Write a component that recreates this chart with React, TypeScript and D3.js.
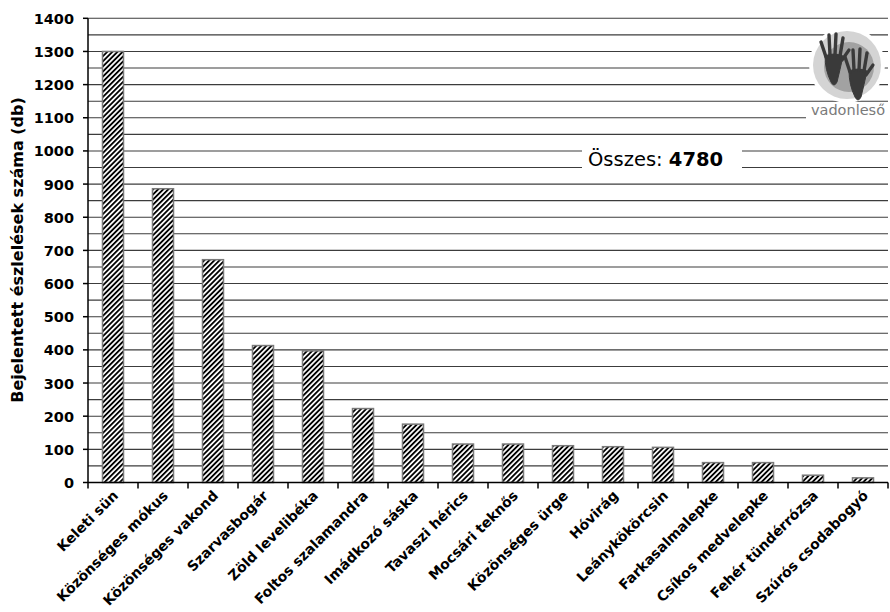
import React from "react";
import * as d3 from "d3";

const categories = [
  "Keleti sün",
  "Közönséges mókus",
  "Közönséges vakond",
  "Szarvasbogár",
  "Zöld levelibéka",
  "Foltos szalamandra",
  "Imádkozó sáska",
  "Tavaszi hérics",
  "Mocsári teknős",
  "Közönséges ürge",
  "Hóvirág",
  "Leánykökörcsin",
  "Farkasalmalepke",
  "Csíkos medvelepke",
  "Fehér tündérrózsa",
  "Szúrós csodabogyó",
];
const values = [1300, 886, 672, 413, 397, 223, 176, 116, 116, 111, 108, 106, 60, 60, 22, 14];
const yTicks = [0, 100, 200, 300, 400, 500, 600, 700, 800, 900, 1000, 1100, 1200, 1300, 1400];
const gridValues = d3.range(50, 1401, 50);
const totalLabel = "Összes: ";
const totalValue = "4780";
const yTitle = "Bejelentett észlelések száma (db)";
const logoText = "vadonleső";

const W = 890;
const H = 612;
const M = { left: 88, right: 888, top: 18.3, bottom: 482.5 };

function Hand({ tx, ty, s }: { tx: number; ty: number; s: number }) {
  return (
    <g transform={`translate(${tx} ${ty}) scale(${s})`} fill="#3a3a3a" stroke="#3a3a3a" strokeLinecap="round">
      <path d="M-9 -4 Q-9 10 -3 22 Q0 28 3 22 Q6 10 9 -4 Q0 -8 -9 -4 Z" strokeWidth={1} />
      <line x1={-8} y1={-3} x2={-13} y2={-18} strokeWidth={3.4} />
      <line x1={-4} y1={-5} x2={-5} y2={-25} strokeWidth={3.4} />
      <line x1={1} y1={-5} x2={2} y2={-26} strokeWidth={3.4} />
      <line x1={6} y1={-4} x2={9} y2={-22} strokeWidth={3.4} />
      <line x1={8} y1={0} x2={15} y2={-10} strokeWidth={3.2} />
    </g>
  );
}

export default function App() {
  const x = d3.scaleBand<string>().domain(categories).range([M.left, M.right]).paddingInner(0).paddingOuter(0);
  const y = d3.scaleLinear().domain([0, 1400]).range([M.bottom, M.top]);
  const bw = 21;
  const font = "'DejaVu Sans', Verdana, sans-serif";

  return (
    <svg width={W} height={H} style={{ position: "absolute", left: 0, top: 0, background: "#fff" }}>
      <defs>
        <pattern id="hatch" patternUnits="userSpaceOnUse" width="3.6" height="3.6" patternTransform="rotate(45)">
          <rect width="3.6" height="3.6" fill="#fff" />
          <line x1="0.9" y1="0" x2="0.9" y2="3.6" stroke="#000" strokeWidth="1.9" />
        </pattern>
      </defs>
      <rect x={0} y={0} width={W} height={H} fill="#fff" />
      {/* gridlines */}
      {gridValues.map((v) => (
        <line key={v} x1={M.left} x2={M.right} y1={y(v)} y2={y(v)} stroke="#3c3c3c" strokeWidth={1.1} />
      ))}
      {/* logo */}
      <g>
        <circle cx={847} cy={65} r={38} fill="#fff" />
        <rect x={806} y={102} width={84} height={17} fill="#fff" />
        <circle cx={847} cy={65} r={34} fill="#d4d4d4" />
        <circle cx={849} cy={67} r={25} fill="#a2a2a2" />
        <Hand tx={834} ty={60} s={1} />
        <Hand tx={858} ty={75} s={1} />
        <text x={848} y={115} textAnchor="middle" fontFamily={font} fontSize={14.5} fill="#7a7a7a">
          {logoText}
        </text>
      </g>
      {/* total box */}
      <rect x={582} y={140} width={160} height={37} fill="#fff" />
      <text x={588} y={166} fontFamily={font} fontSize={19.5} fill="#000">
        <tspan>{totalLabel}</tspan>
        <tspan fontWeight="bold">{totalValue}</tspan>
      </text>
      {/* bars */}
      {categories.map((c, i) => {
        const cx = (x(c) as number) + x.bandwidth() / 2;
        return (
          <rect
            key={c}
            x={cx - bw / 2}
            y={y(values[i])}
            width={bw}
            height={y(0) - y(values[i])}
            fill="url(#hatch)"
            stroke="#7a7a7a"
            strokeWidth={1.5}
          />
        );
      })}
      {/* axes */}
      <line x1={M.left} x2={M.left} y1={M.top} y2={M.bottom} stroke="#000" strokeWidth={1.5} />
      <line x1={M.left} x2={M.right} y1={M.bottom} y2={M.bottom} stroke="#000" strokeWidth={1.5} />
      {yTicks.map((t) => (
        <g key={t}>
          <line x1={M.left - 5} x2={M.left} y1={y(t)} y2={y(t)} stroke="#000" strokeWidth={1.5} />
          <text x={M.left - 14} y={y(t) + 5.5} textAnchor="end" fontFamily={font} fontWeight="bold" fontSize={14.5} fill="#000">
            {t}
          </text>
        </g>
      ))}
      {categories.map((c) => (
        <line key={c} x1={x(c) as number} x2={x(c) as number} y1={M.bottom} y2={M.bottom + 6} stroke="#000" strokeWidth={1.5} />
      ))}
      <line x1={M.right} x2={M.right} y1={M.bottom} y2={M.bottom + 6} stroke="#000" strokeWidth={1.5} />
      {/* x labels */}
      {categories.map((c) => {
        const cx = (x(c) as number) + x.bandwidth() / 2 + 6;
        const cy = M.bottom + 14;
        return (
          <text
            key={c}
            x={cx}
            y={cy}
            transform={`rotate(-45 ${cx} ${cy})`}
            textAnchor="end"
            fontFamily={font}
            fontWeight="bold"
            fontSize={14}
            fill="#000"
          >
            {c}
          </text>
        );
      })}
      {/* y title */}
      <text
        x={23}
        y={250}
        transform="rotate(-90 23 250)"
        textAnchor="middle"
        fontFamily={font}
        fontWeight="bold"
        fontSize={16}
        fill="#000"
      >
        {yTitle}
      </text>
    </svg>
  );
}
